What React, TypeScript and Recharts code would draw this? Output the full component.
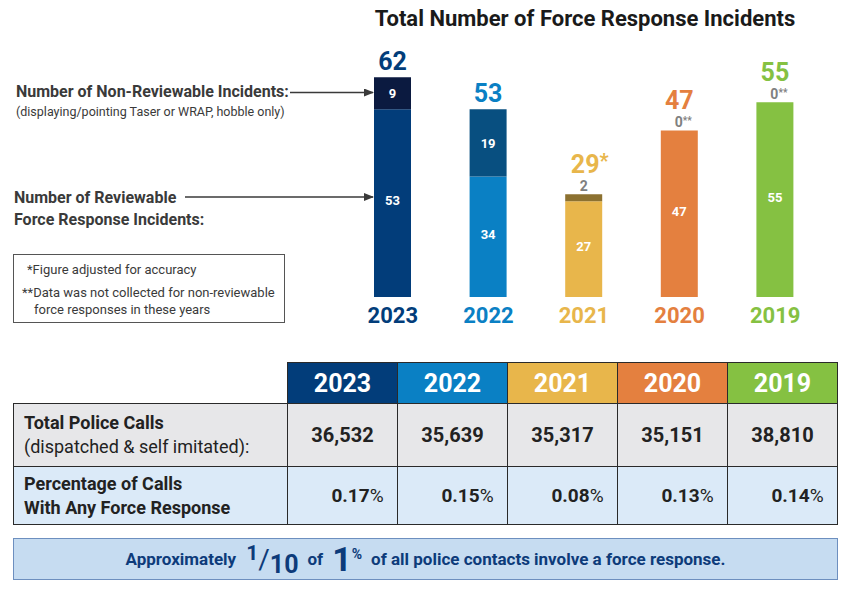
import React from 'react';
import { BarChart, Bar, XAxis, YAxis, Cell, LabelList } from 'recharts';

const years = ['2023', '2022', '2021', '2020', '2019'];
const reviewable = [53, 34, 27, 47, 55];
const nonReviewable = [9, 19, 2, 0, 0];
const totalLabels = ['62', '53', '29*', '47', '55'];
const nonRevMarks = ['', '', '', '**', '**'];
const totalCalls = ['36,532', '35,639', '35,317', '35,151', '38,810'];
const pctCalls = ['0.17', '0.15', '0.08', '0.13', '0.14'];

const yearColors = ['#023d7a', '#0a80c4', '#e8b64b', '#e4803f', '#85c142'];
const nonRevColors = ['#0b1a40', '#084f80', '#8c7130', '#e4803f', '#85c142'];

const data = years.map((y, i) => ({
  year: y,
  reviewable: reviewable[i],
  nonReviewable: nonReviewable[i],
}));

const FONT = 'Roboto, "Noto Sans", sans-serif';

const renderLabels = (props: any) => {
  const vb = props.viewBox || {};
  const x = props.x ?? vb.x;
  const y = props.y ?? vb.y;
  const width = props.width ?? vb.width;
  const height = props.height ?? vb.height;
  const i = props.index;
  if (i === undefined || i === null) return null;
  const unit = height / reviewable[i];
  const cx = x + width / 2;
  const nr = nonReviewable[i];
  const segTop = y - nr * unit;
  const items: any[] = [];
  items.push(
    <text key="r" x={cx} y={y + height / 2 + 2} textAnchor="middle" fill="#ffffff" fontSize={13} fontWeight={700} fontFamily={FONT}>
      {reviewable[i]}
    </text>
  );
  let totalY;
  if (nr >= 5) {
    items.push(
      <text key="n" x={cx} y={y - (nr * unit) / 2 + 5} textAnchor="middle" fill="#ffffff" fontSize={13} fontWeight={700} fontFamily={FONT}>
        {nr}
      </text>
    );
    totalY = segTop - 7;
  } else {
    items.push(
      <text key="n" x={cx + (nonRevMarks[i] ? 4 : 0)} y={segTop - 3} textAnchor="middle" fill="#808080" fontSize={14} fontWeight={700} fontFamily={FONT}>
        {nr}
        {nonRevMarks[i] ? <tspan fontSize={10} dy={-3}>{nonRevMarks[i]}</tspan> : null}
      </text>
    );
    totalY = segTop - 21;
  }
  const tl = totalLabels[i];
  const star = tl.endsWith('*');
  items.push(
    <text key="t" x={cx + (star ? 6 : 0)} y={totalY} textAnchor="middle" fill={yearColors[i]} fontSize={25} fontWeight={700} fontFamily={FONT}>
      {star ? tl.slice(0, -1) : tl}
      {star ? <tspan fontSize={20} dy={-5}>*</tspan> : null}
    </text>
  );
  return <g>{items}</g>;
};

const YearTick = (props: any) => {
  const { x, y, payload } = props;
  const i = years.indexOf(payload.value);
  return (
    <text x={x} y={y + 26} textAnchor="middle" fill={yearColors[i]} fontSize={22} fontWeight={700} fontFamily={FONT}>
      {payload.value}
    </text>
  );
};

const cellBorder = '1px solid #2a2a2a';

export default function App() {
  return (
    <div style={{ position: 'absolute', left: 0, top: 0, width: 850, height: 592, background: '#ffffff', fontFamily: FONT, overflow: 'hidden' }}>
      <div style={{ position: 'absolute', left: 0, top: 0 }}>
        <BarChart width={850} height={340} data={data} margin={{ top: 49, right: 27, bottom: 13, left: 345 }} barSize={37}>
          <YAxis hide domain={[0, 70]} type="number" />
          <XAxis dataKey="year" axisLine={false} tickLine={false} tickSize={0} tickMargin={0} height={30} tick={<YearTick />} interval={0} />
          <Bar dataKey="reviewable" stackId="a" isAnimationActive={false}>
            {data.map((d, i) => (
              <Cell key={d.year} fill={yearColors[i]} />
            ))}
            <LabelList dataKey="reviewable" content={renderLabels} />
          </Bar>
          <Bar dataKey="nonReviewable" stackId="a" isAnimationActive={false}>
            {data.map((d, i) => (
              <Cell key={d.year} fill={nonRevColors[i]} />
            ))}
          </Bar>
        </BarChart>
      </div>
      <svg width={850} height={340} style={{ position: 'absolute', left: 0, top: 0, pointerEvents: 'none' }}>
        <defs>
          <marker id="ah" markerWidth="10" markerHeight="8" refX="9" refY="4" orient="auto" markerUnits="userSpaceOnUse">
            <path d="M0,0 L10,4 L0,8 Z" fill="#3a3a3a" />
          </marker>
        </defs>
        <text x={585} y={26} textAnchor="middle" fontSize={22} fontWeight={700} fill="#1a1a1a" fontFamily={FONT}>
          Total Number of Force Response Incidents
        </text>
        <text x={16} y={97} fontSize={16} fontWeight={700} fill="#3a3a3a" fontFamily={FONT}>
          Number of Non-Reviewable Incidents:
        </text>
        <text x={16} y={116} fontSize={12.5} fill="#3a3a3a" fontFamily={FONT}>
          (displaying/pointing Taser or WRAP, hobble only)
        </text>
        <line x1={290} y1={92.5} x2={373} y2={92.5} stroke="#3a3a3a" strokeWidth={1.6} markerEnd="url(#ah)" />
        <text x={14} y={203} fontSize={16} fontWeight={700} fill="#3a3a3a" fontFamily={FONT}>
          Number of Reviewable
        </text>
        <text x={14} y={225} fontSize={16} fontWeight={700} fill="#3a3a3a" fontFamily={FONT}>
          Force Response Incidents:
        </text>
        <line x1={185} y1={197} x2={373} y2={197} stroke="#3a3a3a" strokeWidth={1.6} markerEnd="url(#ah)" />
        <rect x={13.5} y={254.5} width={271} height={68} fill="none" stroke="#555" strokeWidth={1} />
        <text x={27} y={274} fontSize={13} fill="#3a3a3a" fontFamily={FONT}>
          *Figure adjusted for accuracy
        </text>
        <text x={22} y={297} fontSize={13} fill="#3a3a3a" fontFamily={FONT}>
          **Data was not collected for non-reviewable
        </text>
        <text x={34} y={314} fontSize={13} fill="#3a3a3a" fontFamily={FONT}>
          force responses in these years
        </text>
      </svg>

      <table
        style={{
          position: 'absolute',
          left: 13,
          top: 362,
          width: 825,
          borderCollapse: 'collapse',
          tableLayout: 'fixed',
          fontFamily: FONT,
          color: '#222',
        }}
      >
        <colgroup>
          <col style={{ width: 274 }} />
          {years.map((y) => (
            <col key={y} style={{ width: 110 }} />
          ))}
        </colgroup>
        <tbody>
          <tr style={{ height: 41 }}>
            <td style={{ padding: 0, borderBottom: cellBorder }} />
            {years.map((y, i) => (
              <td
                key={y}
                style={{
                  background: yearColors[i],
                  color: '#fff',
                  fontSize: 25,
                  fontWeight: 700,
                  textAlign: 'center',
                  border: cellBorder,
                  padding: 0,
                }}
              >
                {y}
              </td>
            ))}
          </tr>
          <tr style={{ height: 63, background: '#e7e7e9' }}>
            <td style={{ border: cellBorder, padding: '0 0 0 10px', fontSize: 18, lineHeight: '24px' }}>
              <div style={{ fontWeight: 700 }}>Total Police Calls</div>
              <div>(dispatched &amp; self imitated):</div>
            </td>
            {totalCalls.map((v, i) => (
              <td key={i} style={{ border: cellBorder, textAlign: 'center', fontSize: 20, fontWeight: 700, padding: 0 }}>
                {v}
              </td>
            ))}
          </tr>
          <tr style={{ height: 58, background: '#dbeaf8' }}>
            <td style={{ border: cellBorder, padding: '0 0 0 10px', fontSize: 18, fontWeight: 700, lineHeight: '24px' }}>
              <div>Percentage of Calls</div>
              <div>With Any Force Response</div>
            </td>
            {pctCalls.map((v, i) => (
              <td key={i} style={{ border: cellBorder, textAlign: 'center', fontSize: 19, padding: '0 0 0 30px' }}>
                <span style={{ fontWeight: 700 }}>{v}</span>
                <span style={{ fontWeight: 400 }}>%</span>
              </td>
            ))}
          </tr>
        </tbody>
      </table>

      <div
        style={{
          position: 'absolute',
          left: 13,
          top: 538,
          width: 825,
          height: 42,
          boxSizing: 'border-box',
          background: '#c6dcf1',
          border: '1px solid #6d8fbf',
          display: 'flex',
          alignItems: 'center',
          justifyContent: 'center',
          color: '#0d3b7a',
          fontWeight: 700,
          fontSize: 17,
          whiteSpace: 'nowrap',
        }}
      >
        <span>Approximately</span>
        <span style={{ marginLeft: 10, display: 'inline-flex', alignItems: 'center', height: 40 }}>
          <span style={{ fontSize: 21, position: 'relative', top: -6 }}>1</span>
          <span style={{ fontSize: 28, fontWeight: 400, position: 'relative', top: 0 }}>/</span>
          <span style={{ fontSize: 25, position: 'relative', top: 5 }}>10</span>
        </span>
        <span style={{ marginLeft: 9 }}>of</span>
        <span style={{ marginLeft: 9, display: 'inline-flex', alignItems: 'flex-start', height: 40 }}>
          <span style={{ fontSize: 34, lineHeight: '40px' }}>1</span>
          <span style={{ fontSize: 14, lineHeight: '30px' }}>%</span>
        </span>
        <span style={{ marginLeft: 9 }}>of all police contacts involve a force response.</span>
      </div>
    </div>
  );
}
